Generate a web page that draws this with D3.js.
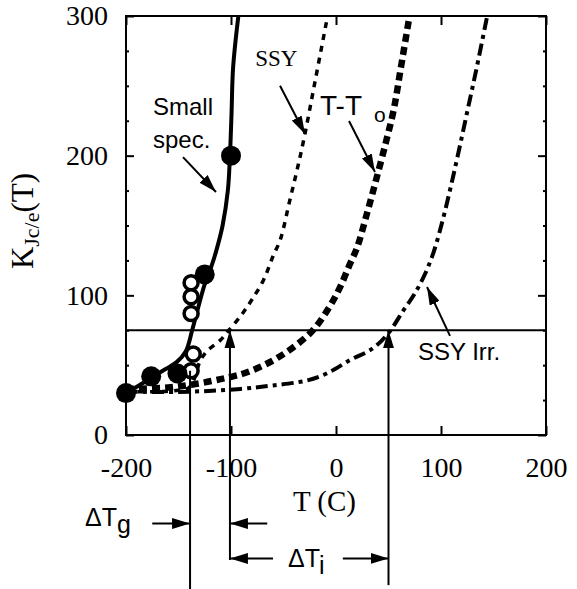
<!DOCTYPE html>
<html>
<head>
<meta charset="utf-8">
<script src="https://cdn.jsdelivr.net/npm/d3@7"></script>
<style>
    body { margin: 0; background: #fff; }
</style>
</head>
<body>
<svg id="chart" width="577" height="589"></svg>
<script>
// values: T in C, K in MPa*sqrt(m)
const smallSpecT = [-200, -180, -165, -152, -143, -137, -131, -125, -119, -114, -108, -103, -101, -99.5, -98, -93];
const smallSpecK = [30, 39, 46, 52, 60, 75, 92, 108, 120, 132, 150, 175, 200, 230, 263, 300];

const ssyT = [-200, -170, -150, -140, -134, -130, -123, -110, -102, -90, -80, -69, -60, -53, -44, -37, -30, -20, -8];
const ssyK = [31, 31, 32, 34, 42, 52, 60, 68, 75, 86, 97, 111, 128, 140, 168, 190, 214, 253, 300];

const shiftT = [-200, -160, -130, -110, -98, -88, -66, -44, -22, -6, 4, 13, 20, 30, 39, 48, 55, 62, 70];
const shiftK = [33, 34, 37, 40, 42, 44, 51, 61, 75, 92, 106, 122, 134, 160, 185, 211, 233, 264, 300];

const irrT = [-200, -140, -91, -60, -28, -9, 13, 35, 50, 64, 74, 84, 93, 102, 110, 118, 126, 134, 144];
const irrK = [31, 31, 33, 35.5, 39, 44, 53.5, 62, 73, 89, 100, 114, 131, 155, 180, 207, 235, 263, 300];

const filledT = [-200, -176, -151, -125, -100];
const filledK = [30, 42, 44, 115, 200];
const openT = [-138, -138, -138, -136, -138];
const openK = [109, 99, 87, 58, 46];

const xTicks = [-200, -100, 0, 100, 200];
const yTicks = [0, 100, 200, 300];
const yMinorTicks = [25, 50, 75, 125, 150, 175, 225, 250, 275];

const refK = 75;          // horizontal reference level
const gT = -139, iLowT = -101, iHighT = 50;

const serif = 'Liberation Serif, Times New Roman, serif';
const sans = 'Liberation Sans, Arial, sans-serif';

let svg = d3.select('#chart');
svg.append('rect').attr('width', 577).attr('height', 589).attr('fill', '#fff');

let x = d3.scaleLinear().domain([-200, 200]).range([126, 546]);
let y = d3.scaleLinear().domain([0, 300]).range([435, 16]);

// arrow head
svg.append('defs').append('marker')
    .attr('id', 'head')
    .attr('viewBox', '0 0 18 11')
    .attr('refX', 18).attr('refY', 5.5)
    .attr('markerWidth', 18).attr('markerHeight', 11)
    .attr('markerUnits', 'userSpaceOnUse')
    .attr('orient', 'auto')
    .append('path').attr('d', 'M0,0L18,5.5L0,11Z').attr('fill', '#000');

function styleAxis(g, size) {
    g.attr('font-family', serif).attr('font-size', size);
    g.select('.domain').remove();
    g.selectAll('line').attr('stroke', '#000').attr('stroke-width', 2);
    g.selectAll('text').attr('font-family', serif).attr('font-size', size).attr('fill', '#000');
}
let plain = function(d) { return String(d); };   // ascii hyphen like the original

// axes, ticks pointing inward
svg.append('g').attr('transform', 'translate(126,0)')
    .call(d3.axisLeft(y).tickValues(yTicks).tickSize(-8).tickPadding(18).tickFormat(plain))
    .call(g => styleAxis(g, 28));
svg.append('g').attr('transform', 'translate(126,0)')
    .call(d3.axisLeft(y).tickValues(yMinorTicks).tickSize(-3).tickFormat(''))
    .call(g => styleAxis(g, 0));
svg.append('g').attr('transform', 'translate(546,0)')
    .call(d3.axisRight(y).tickValues(yTicks).tickSize(-8).tickFormat(''))
    .call(g => styleAxis(g, 0));
svg.append('g').attr('transform', 'translate(546,0)')
    .call(d3.axisRight(y).tickValues(yMinorTicks).tickSize(-3).tickFormat(''))
    .call(g => styleAxis(g, 0));
svg.append('g').attr('transform', 'translate(0,435)')
    .call(d3.axisBottom(x).tickValues(xTicks).tickSize(-9).tickPadding(22).tickFormat(plain))
    .call(g => styleAxis(g, 28));
svg.append('g').attr('transform', 'translate(0,16)')
    .call(d3.axisTop(x).tickValues(xTicks).tickSize(-9).tickFormat(''))
    .call(g => styleAxis(g, 0));

// frame
svg.append('rect')
    .attr('x', x(-200)).attr('y', y(300))
    .attr('width', x(200) - x(-200)).attr('height', y(0) - y(300))
    .attr('fill', 'none').attr('stroke', '#000').attr('stroke-width', 2);

// axis titles
svg.append('text')
    .attr('x', x(-11)).attr('y', y(-54.5))
    .attr('text-anchor', 'middle')
    .attr('font-family', serif).attr('font-size', 29)
    .text('T (C)');

let yTitle = svg.append('text')
    .attr('transform', 'translate(33,221) rotate(-90)')
    .attr('text-anchor', 'middle')
    .attr('font-family', serif).attr('font-size', 31);
yTitle.append('tspan').text('K');
yTitle.append('tspan').attr('font-size', 22).attr('dy', 6).text('Jc/e');
yTitle.append('tspan').attr('dy', -6).text('(T)');

// reference level
svg.append('line')
    .attr('x1', x(-200)).attr('x2', x(200))
    .attr('y1', y(refK)).attr('y2', y(refK))
    .attr('stroke', '#000').attr('stroke-width', 2);

let line = d3.line()
    .x(function(d) { return x(d[0]); })
    .y(function(d) { return y(d[1]); })
    .curve(d3.curveCatmullRom.alpha(0.5));

let curves = [
    {data: d3.zip(irrT, irrK), width: 4, dash: '12,5,4,5'},
    {data: d3.zip(shiftT, shiftK), width: 6.5, dash: '8,5'},
    {data: d3.zip(ssyT, ssyK), width: 3.5, dash: '6,6'},
    {data: d3.zip(smallSpecT, smallSpecK), width: 4, dash: null}
];
curves.forEach(function(c) {
    svg.append('path')
        .datum(c.data)
        .attr('d', line)
        .attr('fill', 'none')
        .attr('stroke', '#000')
        .attr('stroke-width', c.width)
        .attr('stroke-dasharray', c.dash);
});

// data points
svg.selectAll('.open')
    .data(d3.zip(openT, openK))
    .enter().append('circle')
    .attr('class', 'open')
    .attr('cx', function(d) { return x(d[0]); })
    .attr('cy', function(d) { return y(d[1]); })
    .attr('r', 7)
    .attr('fill', '#fff').attr('stroke', '#000').attr('stroke-width', 3.5);
svg.selectAll('.filled')
    .data(d3.zip(filledT, filledK))
    .enter().append('circle')
    .attr('class', 'filled')
    .attr('cx', function(d) { return x(d[0]); })
    .attr('cy', function(d) { return y(d[1]); })
    .attr('r', 10)
    .attr('fill', '#000');

// annotations
function arrow(t1, k1, t2, k2, w) {
    svg.append('line')
        .attr('x1', x(t1)).attr('y1', y(k1))
        .attr('x2', x(t2)).attr('y2', y(k2))
        .attr('stroke', '#000').attr('stroke-width', w || 2)
        .attr('marker-end', 'url(#head)');
}
function label(t, k, font, size, str) {
    return svg.append('text')
        .attr('x', x(t)).attr('y', y(k))
        .attr('font-family', font).attr('font-size', size)
        .text(str);
}

// shift lines
svg.append('line')
    .attr('x1', x(gT)).attr('x2', x(gT))
    .attr('y1', y(46)).attr('y2', 589)
    .attr('stroke', '#000').attr('stroke-width', 2);
arrow(iLowT, -89.5, iLowT, refK);
arrow(iHighT, -107.5, iHighT, refK);

arrow(-175, -63.4, gT, -63.4);
arrow(-65.5, -63.4, iLowT, -63.4);
arrow(-60, -88.4, iLowT, -88.4);
arrow(6.5, -88.4, iHighT, -88.4);

let tg = label(-239, -65.5, sans, 25, '\u0394T');
tg.append('tspan').attr('font-size', 25).attr('dy', 7).text('g');
let ti = label(-45.7, -94.3, sans, 25, '\u0394T');
ti.append('tspan').attr('font-size', 25).attr('dy', 7).text('i');

// curve labels
label(-174.3, 229, sans, 24, 'Small');
label(-174.3, 205.5, sans, 24, 'spec.');
arrow(-145.7, 199, -114.3, 174);

label(-77, 264, serif, 23, 'SSY');
arrow(-53.3, 250, -29.5, 215.5);

let tt = label(-15.2, 229, sans, 28, 'T-T');
tt.append('tspan').attr('font-size', 21).attr('dx', 12).attr('dy', 7).text('o');
arrow(12.4, 224.8, 37.1, 188.3);

label(78, 53.7, sans, 24, 'SSY Irr.');
arrow(108.6, 71, 86.7, 106);
</script>
</body>
</html>
